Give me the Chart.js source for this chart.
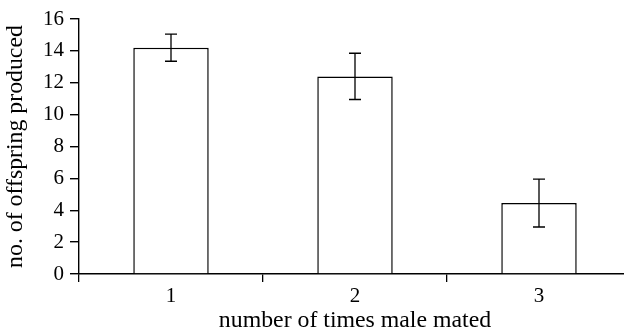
<!DOCTYPE html>
<html>
<head>
<meta charset="utf-8">
<script src="https://cdn.jsdelivr.net/npm/chart.js@4.4.1/dist/chart.umd.min.js"></script>
<style>
  html, body { margin: 0; padding: 0; background: #fff; overflow: hidden; }
  #wrap { width: 632px; height: 333px; }
</style>
</head>
<body>
<div id="wrap"><canvas id="offspring-chart"></canvas></div>
<script>
const categories = ['1', '2', '3'];
const meanOffspring = [14.2, 12.4, 4.45];
const errOffspring = [0.85, 1.45, 1.5];
const yTicks = [0, 2, 4, 6, 8, 10, 12, 14, 16];

// error bars drawn after the bars, through the chart's own scales
const errorBars = {
    id: 'errorBars',
    afterDatasetsDraw(chart) {
        const ctx = chart.ctx;
        const x = chart.scales.x, y = chart.scales.y;
        ctx.save();
        ctx.strokeStyle = '#000';
        ctx.lineWidth = 1.3;
        meanOffspring.forEach((m, i) => {
            const px = x.getPixelForValue(i);
            const top = y.getPixelForValue(m + errOffspring[i]);
            const bot = y.getPixelForValue(m - errOffspring[i]);
            ctx.beginPath();
            ctx.moveTo(px, top); ctx.lineTo(px, bot);
            ctx.moveTo(px - 6, top); ctx.lineTo(px + 6, top);
            ctx.moveTo(px - 6, bot); ctx.lineTo(px + 6, bot);
            ctx.stroke();
        });
        ctx.restore();
    }
};

const family = '"Liberation Serif", "Times New Roman", serif';
const tickFont = { family: family, size: 21, lineHeight: 1.2 };
const titleFont = { family: family, size: 23.8, lineHeight: 1 };

new Chart(document.getElementById('offspring-chart').getContext('2d'), {
    type: 'bar',
    data: {
        labels: categories,
        datasets: [{
            data: meanOffspring,
            backgroundColor: '#fff',
            borderColor: '#000',
            borderWidth: 1.5,
            categoryPercentage: 1,
            barPercentage: 0.41
        }]
    },
    options: {
        responsive: true,
        maintainAspectRatio: false,
        animation: false,
        layout: { padding: { top: 19, right: 1, left: 0, bottom: 0 } },
        plugins: { legend: { display: false }, tooltip: { enabled: false } },
        scales: {
            x: {
                offset: true,
                grid: { offset: true, drawOnChartArea: false, drawTicks: true, tickLength: 8,
                        color: '#000', lineWidth: 1.3, tickColor: '#000', tickWidth: 1.3 },
                border: { color: '#000', width: 1.4 },
                ticks: { color: '#000', font: tickFont, padding: 2 },
                title: { display: true, text: 'number of times male mated', color: '#000', font: titleFont, padding: 0 },
                afterFit(s) { s.height = 59; }
            },
            y: {
                min: 0,
                max: 16,
                afterBuildTicks(s) { s.ticks = yTicks.map(v => ({ value: v })); },
                grid: { drawOnChartArea: false, drawTicks: true, tickLength: 9,
                        color: '#000', lineWidth: 1.4, tickColor: '#000', tickWidth: 1.4 },
                border: { color: '#000', width: 1.4 },
                ticks: { color: '#000', font: tickFont, padding: 6 },
                title: { display: true, text: 'no. of offspring produced', color: '#000', font: titleFont, padding: { top: 4 } },
                afterFit(s) { s.width = 79; }
            }
        }
    },
    plugins: [errorBars]
});
</script>
</body>
</html>
